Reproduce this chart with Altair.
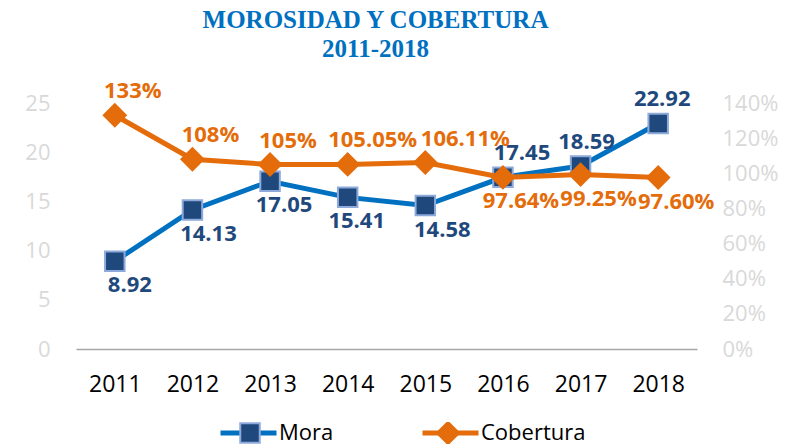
import altair as alt
import pandas as pd

# ---------------- data ----------------
years = ["2011", "2012", "2013", "2014", "2015", "2016", "2017", "2018"]
mora = [8.92, 14.13, 17.05, 15.41, 14.58, 17.45, 18.59, 22.92]
cobertura = [133, 108, 105, 105.05, 106.11, 97.64, 99.25, 97.60]
mora_labels = ["8.92", "14.13", "17.05", "15.41", "14.58", "17.45", "18.59", "22.92"]
cob_labels = ["133%", "108%", "105%", "105.05%", "106.11%", "97.64%", "99.25%", "97.60%"]
series = ["Mora", "Cobertura"]
title_lines = ["MOROSIDAD Y COBERTURA", "2011-2018"]

df = pd.DataFrame({"year": years, "mora": mora, "cob": cobertura,
                   "mora_lbl": mora_labels, "cob_lbl": cob_labels})

# ---------------- style ----------------
W, H = 621, 246
BLUE_LINE = "#0070c0"
NAVY = "#1f497d"
ORANGE = "#e46c0a"
FONT = "Open Sans"
marker_keys = [s + "_m" for s in series]

color_scale = alt.Scale(domain=series, range=[BLUE_LINE, ORANGE])
fill_scale = alt.Scale(domain=marker_keys, range=[NAVY, ORANGE])
stroke_scale = alt.Scale(domain=marker_keys, range=["#8eaadb", ORANGE])
shape_scale = alt.Scale(domain=marker_keys,
                        range=["square", "M0,-1.13L1.13,0L0,1.13L-1.13,0Z"])

legA = alt.Legend(title=None, orient="none", legendX=142, legendY=319,
                  direction="horizontal", columns=2, symbolType="M-1,0H1",
                  symbolSize=3136, symbolStrokeWidth=5, labelFontSize=22,
                  labelFont=FONT, labelColor="#000000", labelOffset=0,
                  columnPadding=86, clipHeight=22, padding=0)
legB = alt.Legend(title=None, orient="none", legendX=163, legendY=319,
                  direction="horizontal", columns=2, symbolSize=380,
                  symbolStrokeWidth=2, labelExpr="''", labelOffset=0,
                  columnPadding=176, clipHeight=22, padding=0)

x_enc = alt.X("year:O", scale=alt.Scale(type="point", padding=0.5),
              axis=alt.Axis(title=None, labelAngle=0, labelFontSize=23,
                            labelFont=FONT, labelColor="#000000",
                            labelPadding=24, ticks=False,
                            domainColor="#a6a6a6", domainWidth=1.5,
                            grid=False))

y_mora = alt.Y("mora:Q", scale=alt.Scale(domain=[0, 25], nice=False),
               axis=alt.Axis(title=None, orient="left",
                             values=[0, 5, 10, 15, 20, 25],
                             labelFontSize=22, labelFont=FONT,
                             labelColor="#d9d9d9", labelPadding=26,
                             ticks=False, domain=False, grid=False))
y_cob = alt.Y("cob:Q", scale=alt.Scale(domain=[0, 140], nice=False),
              axis=alt.Axis(title=None, orient="right",
                            values=[0, 20, 40, 60, 80, 100, 120, 140],
                            labelExpr="datum.value + '%'",
                            labelFontSize=22, labelFont=FONT,
                            labelColor="#d9d9d9", labelPadding=25,
                            ticks=False, domain=False, grid=False))

# label placement (style): above/below and small horizontal nudges
mora_dx = {"2011": 15, "2012": 16, "2013": 14, "2014": 9,
           "2015": 17, "2016": 19, "2017": 6, "2018": 4}
cob_dx = {"2014": 25, "2015": 40}


def mora_dy(y):
    return 24 if int(y) <= 2015 else -24


def cob_dy(y):
    return -24 if int(y) <= 2015 else 24


mora_base = alt.Chart(df).transform_calculate(
    s=f"'{series[0]}'", m=f"'{marker_keys[0]}'")
cob_base = alt.Chart(df).transform_calculate(
    s=f"'{series[1]}'", m=f"'{marker_keys[1]}'")


def line_layer(base, y):
    return base.mark_line(strokeWidth=5).encode(
        x=x_enc, y=y,
        color=alt.Color("s:N", scale=color_scale, legend=legA))


def point_layer(base, y):
    return base.mark_point(filled=True, size=380, strokeWidth=2,
                           opacity=1).encode(
        x=x_enc, y=y,
        fill=alt.Fill("m:N", scale=fill_scale, legend=legB),
        stroke=alt.Stroke("m:N", scale=stroke_scale, legend=legB),
        shape=alt.Shape("m:N", scale=shape_scale, legend=legB))


def text_layers(base, y, field, color, dyf, dxmap, dxdef):
    layers = []
    for yr in years:
        layers.append(
            base.transform_filter(alt.datum.year == yr).mark_text(
                font=FONT, fontSize=22, fontWeight="bold", color=color,
                baseline="middle", align="center",
                dx=dxmap.get(yr, dxdef), dy=dyf(yr)).encode(
                x=x_enc, y=y, text=f"{field}:N"))
    return layers


mora_layer = alt.layer(
    line_layer(mora_base, y_mora), point_layer(mora_base, y_mora),
    *text_layers(mora_base, y_mora, "mora_lbl", NAVY, mora_dy, mora_dx, 13))
cob_layer = alt.layer(
    line_layer(cob_base, y_cob), point_layer(cob_base, y_cob),
    *text_layers(cob_base, y_cob, "cob_lbl", ORANGE, cob_dy, cob_dx, 18))

chart = alt.layer(mora_layer, cob_layer).resolve_scale(
    y="independent"
).properties(
    width=W, height=H,
    padding={"left": 68, "top": 95, "right": 93, "bottom": 95},
    autosize=alt.AutoSizeParams(type="none"),
    title=alt.TitleParams(text=title_lines, font="Liberation Serif",
                          fontSize=25, fontWeight="bold", color=BLUE_LINE,
                          anchor="middle", dx=-11, lineHeight=29, offset=18),
    background="white",
).configure_view(stroke=None)

chart.save("out.html", embed_options={"renderer": "svg", "actions": False})
